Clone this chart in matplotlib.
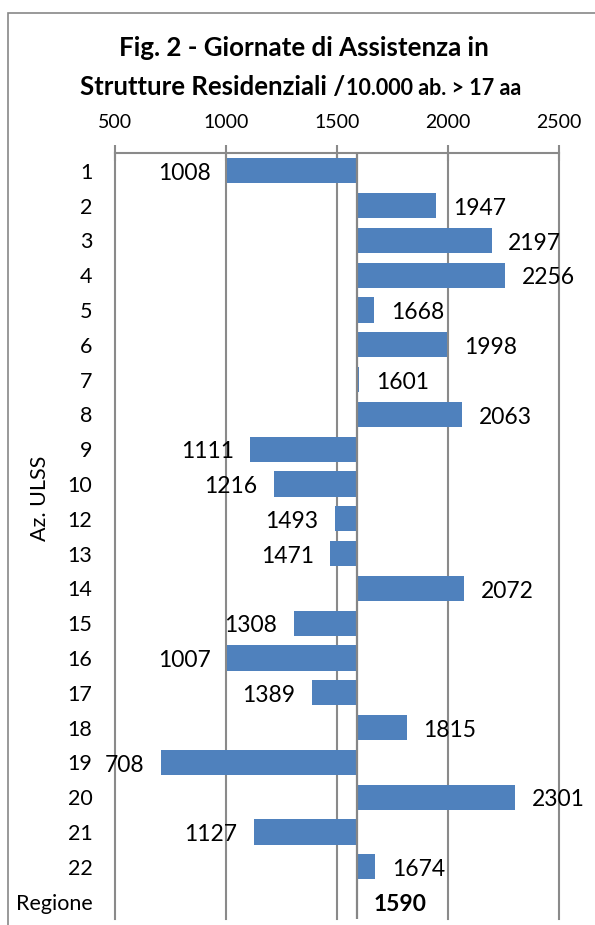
import numpy as np
import matplotlib.pyplot as plt
from matplotlib.patches import Rectangle

# data
ulss = ['1', '2', '3', '4', '5', '6', '7', '8', '9', '10', '12', '13', '14',
        '15', '16', '17', '18', '19', '20', '21', '22', 'Regione']
giornate = [1008, 1947, 2197, 2256, 1668, 1998, 1601, 2063, 1111, 1216, 1493,
            1471, 2072, 1308, 1007, 1389, 1815, 708, 2301, 1127, 1674, 1590]
regione = 1590
xticks = [500, 1000, 1500, 2000, 2500]

plt.rcParams['font.family'] = ['Lato', 'DejaVu Sans']
W, H = 595, 925
fig = plt.figure(figsize=(W / 100, H / 100), dpi=100)

# outer chart border
fig.patches.append(Rectangle((8 / W, -0.05), 1.0, 1 - 13 / H + 0.05,
                             transform=fig.transFigure, fill=False,
                             edgecolor='#878787', linewidth=1.2))

left, right = 114.6, 559.0
top, bottom = 153.4, 919.0
ax = fig.add_axes([left / W, 1 - bottom / H, (right - left) / W, (bottom - top) / H])

y = np.arange(len(ulss))
vals = np.array(giornate)
ax.barh(y, vals - regione, left=regione, height=0.72, color='#4F81BD', zorder=3)

ax.set_xlim(500, 2500)
ax.set_ylim(len(ulss) - 0.5, -0.5)

# gridlines and category axis crossing at the regional value
for xv in xticks:
    ax.axvline(xv, color='#8a8a8a', linewidth=1.5, zorder=1, clip_on=False)
ax.axvline(regione, color='#868686', linewidth=1.6, zorder=4)

ax.xaxis.tick_top()
ax.set_xticks(xticks)
ax.tick_params(axis='x', direction='inout', length=12, width=1.5, color='#8a8a8a',
               labelsize=14, pad=10)
ax.set_yticks(y)
ax.set_yticklabels(ulss)
ax.tick_params(axis='y', length=0, labelsize=15.5, pad=16)
for s in ['left', 'right', 'bottom']:
    ax.spines[s].set_visible(False)
ax.spines['top'].set_color('#8a8a8a')
ax.spines['top'].set_linewidth(1.5)
fig.text(40 / W, 1 - 498 / H, 'Az. ULSS', rotation=90, ha='center', va='center',
         fontsize=15.5)

# data labels outside the bar ends
for i, v in enumerate(giornate):
    bold = ulss[i] == 'Regione'
    if v >= regione:
        ax.annotate(str(v), (v, i), xytext=(12, -2), textcoords='offset points',
                    ha='left', va='center', fontsize=16.5,
                    fontweight='bold' if bold else 'normal', zorder=5)
    else:
        ax.annotate(str(v), (v, i), xytext=(-12, -2), textcoords='offset points',
                    ha='right', va='center', fontsize=16.5, zorder=5)

# title
fig.text(304 / W, 1 - 48 / H, 'Fig. 2 - Giornate di Assistenza in', ha='center', va='center',
         fontsize=18.6, fontweight='bold')
t1 = fig.text(80 / W, 1 - 95 / H, 'Strutture Residenziali /', ha='left', va='baseline',
              fontsize=18.5, fontweight='bold')
fig.canvas.draw()
bb = t1.get_window_extent()
fig.text(bb.x1 / W + 0.002, 1 - 95 / H, '10.000 ab. > 17 aa', ha='left', va='baseline',
         fontsize=15.5, fontweight='bold')

fig.savefig('out.png', dpi=100)
